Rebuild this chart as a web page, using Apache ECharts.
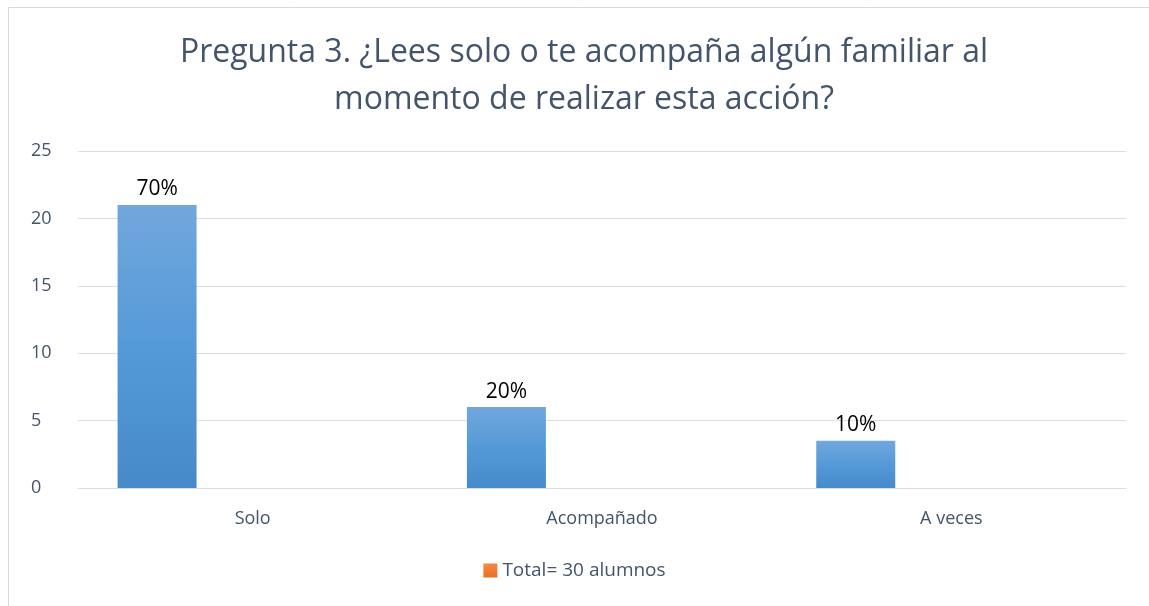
<!DOCTYPE html>
<html>
<head>
<meta charset="utf-8">
<script src="https://cdn.jsdelivr.net/npm/echarts@6/dist/echarts.min.js"></script>
<style>
html, body { margin: 0; padding: 0; background: #fff; }
#chart { width: 1149px; height: 606px; }
</style>
</head>
<body>
<div id="chart"></div>
<script>
// datos
var categorias = ['Solo', 'Acompañado', 'A veces'];
var alumnos = [21, 6, 3.5];
var porcentajes = ['70%', '20%', '10%'];
var totalVacio = [null, null, null];
var nombreLeyenda = 'Total= 30 alumnos';

var fuente = '"Open Sans", "Noto Sans", sans-serif';
var chart = echarts.init(document.getElementById('chart'));
var option = {
    animation: false,
    textStyle: { fontFamily: fuente },
    title: {
        text: 'Pregunta 3. ¿Lees solo o te acompaña algún familiar al\nmomento de realizar esta acción?',
        left: 579,
        textAlign: 'center',
        top: 24,
        textStyle: {
            fontFamily: fuente,
            fontSize: 32,
            fontWeight: 'normal',
            color: '#44546a',
            lineHeight: 47
        }
    },
    graphic: [{
        type: 'rect',
        shape: { x: 8.5, y: 7.5, width: 1150, height: 610 },
        style: { fill: 'none', stroke: '#d9d9d9', lineWidth: 1 },
        silent: true
    }],
    legend: {
        data: [nombreLeyenda],
        bottom: 21,
        left: 'center',
        icon: 'rect',
        itemWidth: 14,
        itemHeight: 14,
        itemGap: 6,
        textStyle: { fontFamily: fuente, fontSize: 19, color: '#44546a' }
    },
    grid: { left: 78, right: 23, top: 151, bottom: 118, containLabel: false },
    xAxis: {
        type: 'category',
        data: categorias,
        axisTick: { show: false },
        axisLine: { lineStyle: { color: '#d9dde5', width: 1 } },
        axisLabel: { fontSize: 18, color: '#44546a', margin: 22 }
    },
    yAxis: {
        type: 'value',
        min: 0,
        max: 25,
        interval: 5,
        axisLine: { show: false },
        axisTick: { show: false },
        splitLine: { lineStyle: { color: '#d9dde5', width: 1 } },
        axisLabel: { fontSize: 18, color: '#44546a', margin: 47, align: 'left' }
    },
    series: [{
        name: 'Alumnos',
        type: 'bar',
        data: alumnos,
        barWidth: 79,
        barGap: '142%',
        itemStyle: {
            color: new echarts.graphic.LinearGradient(0, 0, 0, 1, [
                { offset: 0, color: '#71a7dd' },
                { offset: 0.5, color: '#559ad8' },
                { offset: 1, color: '#468ac9' }
            ])
        },
        label: {
            show: true,
            position: 'top',
            distance: 5,
            fontSize: 21,
            color: '#000',
            fontFamily: fuente,
            formatter: function (p) { return porcentajes[p.dataIndex]; }
        }
    }, {
        name: nombreLeyenda,
        type: 'bar',
        data: totalVacio,
        barWidth: 79,
        itemStyle: {
            color: new echarts.graphic.LinearGradient(0, 0, 0, 1, [
                { offset: 0, color: '#f4894a' },
                { offset: 1, color: '#e8711f' }
            ])
        }
    }]
};
chart.setOption(option);
</script>
</body>
</html>
